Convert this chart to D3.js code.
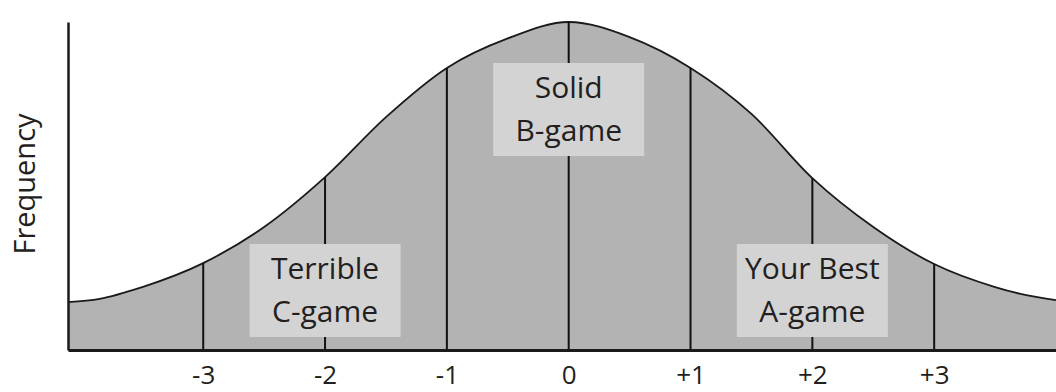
<!DOCTYPE html>
<html>
<head>
<meta charset="utf-8">
<script src="https://cdn.jsdelivr.net/npm/d3@7"></script>
<style>
  body { margin: 0; background: #fff; }
  svg { display: block; font-family: "Open Sans", "Noto Sans", sans-serif; }
</style>
</head>
<body>
<div id="chart"></div>
<script>
// standard deviations from the mean (x) and relative frequency (y)
var zValues = [-4.11, -3.85, -3.5, -3, -2.5, -2, -1.5, -1, -0.5, 0, 0.5, 1, 1.5, 2, 2.5, 3, 3.5, 3.7, 4.0];
var frequency = [14.6, 15.6, 19.2, 26.5, 37.5, 52.7, 71, 86, 95, 100, 95.4, 86, 72, 52.4, 37.5, 26.2, 19.2, 17.2, 15.2];

var tickValues = [-3, -2, -1, 0, 1, 2, 3];
var tickLabels = ["-3", "-2", "-1", "0", "+1", "+2", "+3"];

var labelCentres = [-2, 0, 2];
var labelLines = [["Terrible", "C-game"], ["Solid", "B-game"], ["Your Best", "A-game"]];
var labelHigh = [false, true, false];

var width = 1056, height = 392;
var margin = { top: 22, right: 0, bottom: 42, left: 68 };

var points = zValues.map((z, i) => ({ z: z, f: frequency[i] }));

var x = d3.scaleLinear()
    .domain([d3.min(zValues), d3.max(zValues)])
    .range([margin.left, width - margin.right]);
var y = d3.scaleLinear()
    .domain([0, 100])
    .range([height - margin.bottom, margin.top]);

var svg = d3.select("#chart").append("svg")
    .attr("width", width)
    .attr("height", height);

var area = d3.area()
    .x(d => x(d.z))
    .y0(y(0))
    .y1(d => y(d.f))
    .curve(d3.curveMonotoneX);

var line = d3.line()
    .x(d => x(d.z))
    .y(d => y(d.f))
    .curve(d3.curveMonotoneX);

svg.append("path")
    .datum(points)
    .attr("d", area)
    .attr("fill", "#b3b3b3");

svg.append("path")
    .datum(points)
    .attr("d", line)
    .attr("fill", "none")
    .attr("stroke", "#1a1a1a")
    .attr("stroke-width", 1.8);

// sigma lines, top taken from the curve values
var sigmaPoints = points.filter(d => tickValues.includes(d.z));
svg.selectAll(".sigma")
    .data(sigmaPoints)
    .enter()
    .append("line")
    .attr("class", "sigma")
    .attr("x1", d => x(d.z))
    .attr("x2", d => x(d.z))
    .attr("y1", y(0))
    .attr("y2", d => y(d.f))
    .attr("stroke", "#111")
    .attr("stroke-width", 2);

// label boxes
var boxW = 151, boxH = 93;
var label = svg.selectAll(".label")
    .data(labelCentres.map((c, i) => ({ c: c, lines: labelLines[i], high: labelHigh[i] })))
    .enter()
    .append("g")
    .attr("class", "label")
    .attr("transform", d => "translate(" + x(d.c) + "," + (d.high ? 63 : 244) + ")");

label.append("rect")
    .attr("x", -boxW / 2)
    .attr("y", 0)
    .attr("width", boxW)
    .attr("height", boxH)
    .attr("fill", "#d3d3d3");

label.selectAll("text")
    .data(d => d.lines)
    .enter()
    .append("text")
    .attr("x", 0)
    .attr("y", (d, i) => 35 + i * 43)
    .attr("text-anchor", "middle")
    .style("font-size", "30px")
    .style("fill", "#231f20")
    .text(d => d);

// axes
var xAxis = svg.append("g")
    .attr("transform", "translate(0," + y(0) + ")")
    .call(d3.axisBottom(x)
        .tickValues(tickValues)
        .tickFormat((d, i) => tickLabels[i])
        .tickSize(0)
        .tickSizeOuter(0)
        .tickPadding(16));
xAxis.select(".domain").attr("stroke", "#1a1a1a").attr("stroke-width", 3);
xAxis.selectAll("text")
    .style("font-family", "'Open Sans', 'Noto Sans', sans-serif")
    .style("font-size", "26px")
    .style("fill", "#231f20");

var yAxis = svg.append("g")
    .attr("transform", "translate(" + margin.left + ",0)")
    .call(d3.axisLeft(y).tickValues([]).tickSizeOuter(0));
yAxis.select(".domain").attr("stroke", "#1a1a1a").attr("stroke-width", 2.5);

svg.append("text")
    .attr("transform", "translate(35," + 184 + ") rotate(-90)")
    .attr("text-anchor", "middle")
    .style("font-size", "29px")
    .style("fill", "#231f20")
    .text("Frequency");
</script>
</body>
</html>
